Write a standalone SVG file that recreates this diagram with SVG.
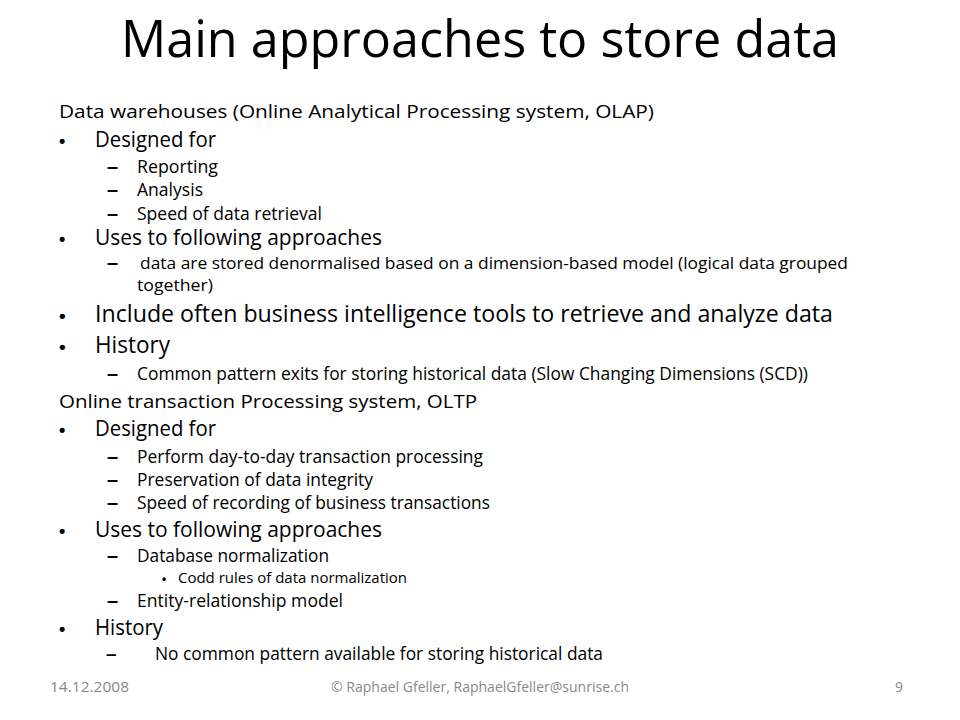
<svg xmlns="http://www.w3.org/2000/svg" width="960" height="720" viewBox="0 0 960 720">
<style>
text{font-family:"Open Sans","Noto Sans","Liberation Sans",sans-serif;fill:#000}
.t{font-size:52px}
.h0{font-size:19px}
.l1{font-size:21px}
.lb{font-size:23.5px}
.l2{font-size:18px}
.l2s{font-size:16.5px}
.l3{font-size:15px}
.ft{font-size:14px;fill:#898989}
.bu{font-family:"Liberation Sans",Arial,sans-serif;font-weight:bold}
</style>
<rect width="960" height="720" fill="#fff"/>
<g id="title">
<text class="t" x="121" y="57" textLength="718" lengthAdjust="spacingAndGlyphs">Main approaches to store data</text>
</g>
<g id="olap">
<text class="h0" x="59" y="118" textLength="595" lengthAdjust="spacingAndGlyphs">Data warehouses (Online Analytical Processing system, OLAP)</text>
<text class="bu" x="59" y="147" font-size="18">•</text>
<text class="l1" x="95" y="147" textLength="121" lengthAdjust="spacingAndGlyphs">Designed for</text>
<text class="bu" x="107" y="173" font-size="20">–</text>
<text class="l2" x="137" y="173" textLength="81" lengthAdjust="spacingAndGlyphs">Reporting</text>
<text class="bu" x="107" y="196" font-size="20">–</text>
<text class="l2" x="137" y="196" textLength="66" lengthAdjust="spacingAndGlyphs">Analysis</text>
<text class="bu" x="107" y="219.5" font-size="20">–</text>
<text class="l2" x="137" y="219.5" textLength="185" lengthAdjust="spacingAndGlyphs">Speed of data retrieval</text>
<text class="bu" x="59" y="245" font-size="18">•</text>
<text class="l1" x="95" y="245" textLength="287" lengthAdjust="spacingAndGlyphs">Uses to following approaches</text>
<text class="bu" x="107" y="269" font-size="20">–</text>
<text class="l2s" x="140" y="269" textLength="708" lengthAdjust="spacingAndGlyphs">data are stored denormalised based on a dimension-based model (logical data grouped</text>
<text class="l2s" x="137" y="291" textLength="76" lengthAdjust="spacingAndGlyphs">together)</text>
<text class="bu" x="59" y="322" font-size="19">•</text>
<text class="lb" x="95" y="322" textLength="738" lengthAdjust="spacingAndGlyphs">Include often business intelligence tools to retrieve and analyze data</text>
<text class="bu" x="59" y="353" font-size="19">•</text>
<text class="lb" x="95" y="353" textLength="75" lengthAdjust="spacingAndGlyphs">History</text>
<text class="bu" x="107" y="380" font-size="20">–</text>
<text class="l2" x="137" y="380" textLength="671" lengthAdjust="spacingAndGlyphs">Common pattern exits for storing historical data (Slow Changing Dimensions (SCD))</text>
</g>
<g id="oltp">
<text class="h0" x="59" y="408" textLength="418" lengthAdjust="spacingAndGlyphs">Online transaction Processing system, OLTP</text>
<text class="bu" x="59" y="436" font-size="18">•</text>
<text class="l1" x="95" y="436" textLength="121" lengthAdjust="spacingAndGlyphs">Designed for</text>
<text class="bu" x="107" y="463" font-size="20">–</text>
<text class="l2" x="137" y="463" textLength="346" lengthAdjust="spacingAndGlyphs">Perform day-to-day transaction processing</text>
<text class="bu" x="107" y="486" font-size="20">–</text>
<text class="l2" x="137" y="486" textLength="236" lengthAdjust="spacingAndGlyphs">Preservation of data integrity</text>
<text class="bu" x="107" y="509" font-size="20">–</text>
<text class="l2" x="137" y="509" textLength="353" lengthAdjust="spacingAndGlyphs">Speed of recording of business transactions</text>
<text class="bu" x="59" y="537" font-size="18">•</text>
<text class="l1" x="95" y="537" textLength="287" lengthAdjust="spacingAndGlyphs">Uses to following approaches</text>
<text class="bu" x="107" y="562" font-size="20">–</text>
<text class="l2" x="137" y="562" textLength="192" lengthAdjust="spacingAndGlyphs">Database normalization</text>
<text class="bu" x="162" y="583" font-size="12">•</text>
<text class="l3" x="178" y="583" textLength="229" lengthAdjust="spacingAndGlyphs">Codd rules of data normalization</text>
<text class="bu" x="107" y="607" font-size="20">–</text>
<text class="l2" x="137" y="607" textLength="206" lengthAdjust="spacingAndGlyphs">Entity-relationship model</text>
<text class="bu" x="59" y="635" font-size="18">•</text>
<text class="l1" x="95" y="635" textLength="68" lengthAdjust="spacingAndGlyphs">History</text>
<text class="bu" x="106" y="660" font-size="19">–</text>
<text class="l2" x="155" y="660" textLength="448" lengthAdjust="spacingAndGlyphs">No common pattern available for storing historical data</text>
</g>
<g id="footer">
<text class="ft" x="50" y="692" textLength="79" lengthAdjust="spacingAndGlyphs">14.12.2008</text>
<text class="ft" x="331" y="692" textLength="298" lengthAdjust="spacingAndGlyphs">© Raphael Gfeller, RaphaelGfeller@sunrise.ch</text>
<text class="ft" x="903" y="692" text-anchor="end">9</text>
</g>
</svg>
